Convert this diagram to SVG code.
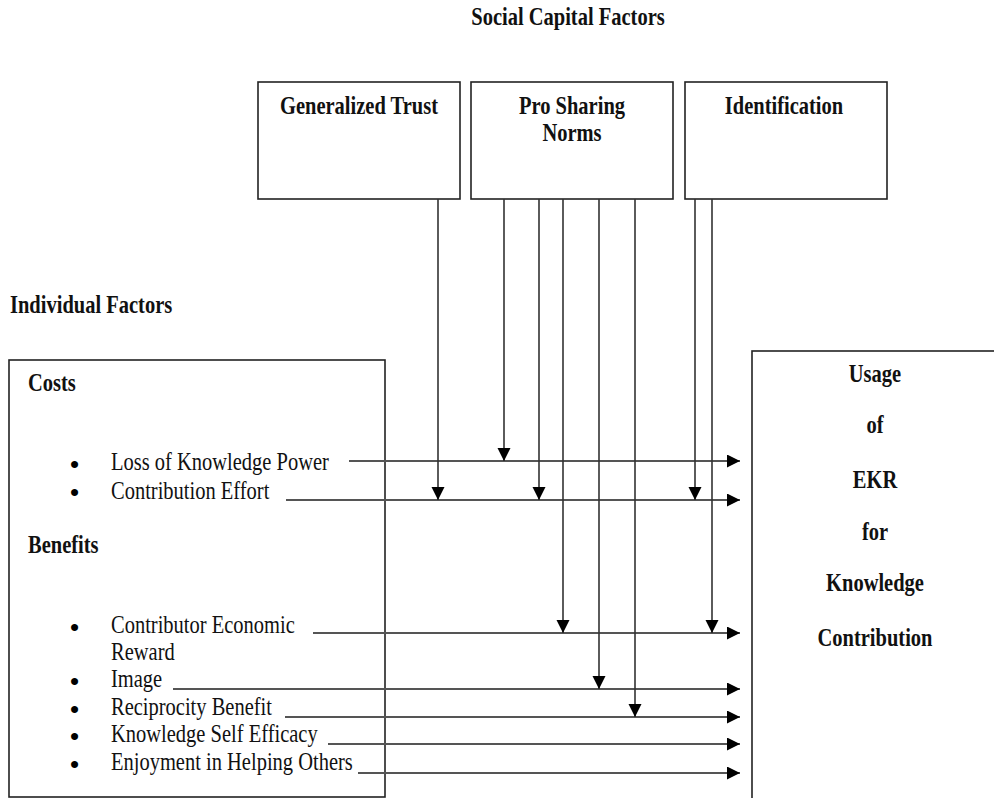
<svg xmlns="http://www.w3.org/2000/svg" width="994" height="798" viewBox="0 0 994 798">
<style>
.t{font-family:"Liberation Serif","Times New Roman",serif;font-size:20.5px;fill:#111}
.b{font-weight:bold}
.m{text-anchor:middle}
.bu{font-family:"Liberation Serif","Times New Roman",serif;font-size:26px;font-weight:bold;fill:#000}
.box{fill:#fff;stroke:#222;stroke-width:1.6}
.h{stroke:#555;stroke-width:2.2;fill:none}
.v{stroke:#333;stroke-width:1.6;fill:none}
</style>
<defs>
<marker id="ah" markerUnits="userSpaceOnUse" markerWidth="14" markerHeight="14" refX="13" refY="6.5" orient="auto">
<path d="M0,0 L13,6.5 L0,13 z" fill="#000"/>
</marker>
</defs>
<rect width="994" height="798" fill="#fff"/>
<text class="t b m" transform="translate(568,25) scale(1,1.2)">Social Capital Factors</text>
<text class="t b" transform="translate(10,313) scale(1,1.2)">Individual Factors</text>

<g id="generalized-trust">
<rect class="box" x="258" y="82" width="202" height="117"/>
<text class="t b m" transform="translate(359,114) scale(1,1.2)">Generalized Trust</text>
</g>
<g id="pro-sharing-norms">
<rect class="box" x="471" y="82" width="202" height="117"/>
<text class="t b m" transform="translate(572,114) scale(1,1.2)">Pro Sharing</text>
<text class="t b m" transform="translate(572,141) scale(1,1.2)">Norms</text>
</g>
<g id="identification">
<rect class="box" x="685" y="82" width="202" height="117"/>
<text class="t b m" transform="translate(784,114) scale(1,1.2)">Identification</text>
</g>

<g id="individual-factors">
<rect class="box" x="9" y="360" width="376" height="437"/>
<text class="t b" transform="translate(28,391) scale(1,1.2)">Costs</text>
<text class="bu" x="70" y="473">•</text>
<text class="t" transform="translate(111,470) scale(1,1.2)">Loss of Knowledge Power</text>
<text class="bu" x="70" y="501">•</text>
<text class="t" transform="translate(111,499) scale(1,1.2)">Contribution Effort</text>
<text class="t b" transform="translate(28,553) scale(1,1.2)">Benefits</text>
<text class="bu" x="70" y="636">•</text>
<text class="t" transform="translate(111,633) scale(1,1.2)">Contributor Economic</text>
<text class="t" transform="translate(111,660) scale(1,1.2)">Reward</text>
<text class="bu" x="70" y="690">•</text>
<text class="t" transform="translate(111,687) scale(1,1.2)">Image</text>
<text class="bu" x="70" y="718">•</text>
<text class="t" transform="translate(111,715) scale(1,1.2)">Reciprocity Benefit</text>
<text class="bu" x="70" y="745">•</text>
<text class="t" transform="translate(111,742) scale(1,1.2)">Knowledge Self Efficacy</text>
<text class="bu" x="70" y="773">•</text>
<text class="t" transform="translate(111,770) scale(1,1.2)">Enjoyment in Helping Others</text>
</g>

<g id="usage-ekr">
<rect class="box" x="752" y="351" width="260" height="460"/>
<text class="t b m" transform="translate(875,382) scale(1,1.2)">Usage</text>
<text class="t b m" transform="translate(875,433) scale(1,1.2)">of</text>
<text class="t b m" transform="translate(875,488) scale(1,1.2)">EKR</text>
<text class="t b m" transform="translate(875,540) scale(1,1.2)">for</text>
<text class="t b m" transform="translate(875,591) scale(1,1.2)">Knowledge</text>
<text class="t b m" transform="translate(875,646) scale(1,1.2)">Contribution</text>
</g>

<g id="connectors">
<line class="h" x1="349" y1="461" x2="740" y2="461" marker-end="url(#ah)"/>
<line class="h" x1="286" y1="500" x2="740" y2="500" marker-end="url(#ah)"/>
<line class="h" x1="313" y1="633" x2="740" y2="633" marker-end="url(#ah)"/>
<line class="h" x1="173" y1="689" x2="740" y2="689" marker-end="url(#ah)"/>
<line class="h" x1="285" y1="717" x2="740" y2="717" marker-end="url(#ah)"/>
<line class="h" x1="328" y1="744" x2="740" y2="744" marker-end="url(#ah)"/>
<line class="h" x1="358" y1="773" x2="740" y2="773" marker-end="url(#ah)"/>

<line class="v" x1="438" y1="199" x2="438" y2="500" marker-end="url(#ah)"/>
<line class="v" x1="504" y1="199" x2="504" y2="461" marker-end="url(#ah)"/>
<line class="v" x1="539" y1="199" x2="539" y2="500" marker-end="url(#ah)"/>
<line class="v" x1="563" y1="199" x2="563" y2="633" marker-end="url(#ah)"/>
<line class="v" x1="599" y1="199" x2="599" y2="689" marker-end="url(#ah)"/>
<line class="v" x1="635" y1="199" x2="635" y2="717" marker-end="url(#ah)"/>
<line class="v" x1="695" y1="199" x2="695" y2="500" marker-end="url(#ah)"/>
<line class="v" x1="712" y1="199" x2="712" y2="633" marker-end="url(#ah)"/>
</g>
</svg>
